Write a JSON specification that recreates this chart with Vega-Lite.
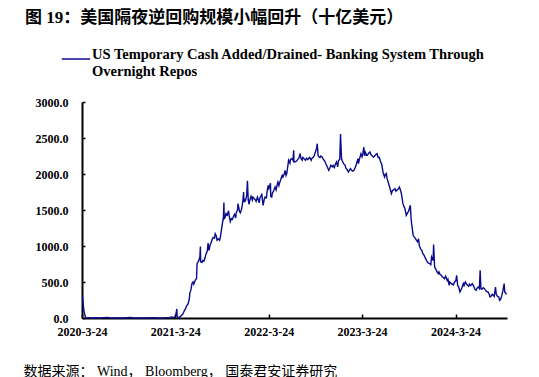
{
  "$schema": "https://vega.github.io/schema/vega-lite/v6.json",
  "autosize": {"type": "none"},
  "width": 425,
  "height": 216,
  "padding": {"left": 82, "top": 102, "right": 32, "bottom": 59},
  "background": "white",
  "title": {
    "text": "图 19：美国隔夜逆回购规模小幅回升（十亿美元）",
    "anchor": "start",
    "frame": "group",
    "dx": -57,
    "offset": 17,
    "font": "Liberation Serif, Noto Sans CJK SC",
    "fontSize": 17,
    "fontWeight": "bold",
    "color": "#000000"
  },
  "config": {
    "view": {"stroke": null},
    "axis": {
      "labelFont": "Liberation Serif",
      "labelFontSize": 12,
      "labelFontWeight": "bold",
      "labelColor": "#000000",
      "domainColor": "#000000",
      "domainWidth": 2,
      "tickColor": "#000000",
      "tickWidth": 1.5,
      "grid": false
    }
  },
  "data": {
    "values": [
      {"d": "2020-03-24", "v": 280}, {"d": "2020-03-26", "v": 290}, {"d": "2020-03-30", "v": 150},
      {"d": "2020-04-01", "v": 90}, {"d": "2020-04-06", "v": 20}, {"d": "2020-04-10", "v": 2},
      {"d": "2020-04-20", "v": 5}, {"d": "2020-05-01", "v": 0}, {"d": "2020-05-15", "v": 3},
      {"d": "2020-06-01", "v": 0}, {"d": "2020-06-30", "v": 8}, {"d": "2020-07-15", "v": 0},
      {"d": "2020-08-03", "v": 1}, {"d": "2020-09-01", "v": 0}, {"d": "2020-09-30", "v": 6},
      {"d": "2020-10-15", "v": 0}, {"d": "2020-11-16", "v": 0}, {"d": "2020-12-31", "v": 4},
      {"d": "2021-01-15", "v": 0}, {"d": "2021-02-01", "v": 2}, {"d": "2021-02-16", "v": 4},
      {"d": "2021-03-01", "v": 8}, {"d": "2021-03-10", "v": 15}, {"d": "2021-03-18", "v": 5},
      {"d": "2021-03-25", "v": 30}, {"d": "2021-03-30", "v": 125}, {"d": "2021-03-31", "v": 15},
      {"d": "2021-04-05", "v": 5}, {"d": "2021-04-12", "v": 20}, {"d": "2021-04-19", "v": 40},
      {"d": "2021-04-23", "v": 60}, {"d": "2021-04-28", "v": 100}, {"d": "2021-05-03", "v": 130},
      {"d": "2021-05-07", "v": 170}, {"d": "2021-05-12", "v": 190}, {"d": "2021-05-17", "v": 250},
      {"d": "2021-05-20", "v": 350}, {"d": "2021-05-24", "v": 390}, {"d": "2021-05-28", "v": 480},
      {"d": "2021-06-01", "v": 500}, {"d": "2021-06-04", "v": 470}, {"d": "2021-06-08", "v": 510},
      {"d": "2021-06-11", "v": 530}, {"d": "2021-06-15", "v": 550}, {"d": "2021-06-17", "v": 755},
      {"d": "2021-06-21", "v": 780}, {"d": "2021-06-24", "v": 800}, {"d": "2021-06-28", "v": 850},
      {"d": "2021-06-30", "v": 992}, {"d": "2021-07-01", "v": 780}, {"d": "2021-07-06", "v": 770},
      {"d": "2021-07-09", "v": 800}, {"d": "2021-07-14", "v": 790}, {"d": "2021-07-19", "v": 850},
      {"d": "2021-07-22", "v": 890}, {"d": "2021-07-27", "v": 930}, {"d": "2021-07-30", "v": 1040},
      {"d": "2021-08-03", "v": 940}, {"d": "2021-08-06", "v": 1000}, {"d": "2021-08-11", "v": 1050},
      {"d": "2021-08-16", "v": 1100}, {"d": "2021-08-19", "v": 1120}, {"d": "2021-08-24", "v": 1110},
      {"d": "2021-08-27", "v": 1170}, {"d": "2021-08-31", "v": 1140}, {"d": "2021-09-03", "v": 1080},
      {"d": "2021-09-08", "v": 1100}, {"d": "2021-09-13", "v": 1080}, {"d": "2021-09-16", "v": 1120},
      {"d": "2021-09-21", "v": 1240}, {"d": "2021-09-24", "v": 1310}, {"d": "2021-09-28", "v": 1400},
      {"d": "2021-09-30", "v": 1604}, {"d": "2021-10-01", "v": 1380}, {"d": "2021-10-05", "v": 1400},
      {"d": "2021-10-08", "v": 1450}, {"d": "2021-10-13", "v": 1430}, {"d": "2021-10-18", "v": 1490},
      {"d": "2021-10-21", "v": 1410}, {"d": "2021-10-25", "v": 1340}, {"d": "2021-10-29", "v": 1380},
      {"d": "2021-11-02", "v": 1370}, {"d": "2021-11-05", "v": 1400}, {"d": "2021-11-10", "v": 1440},
      {"d": "2021-11-15", "v": 1390}, {"d": "2021-11-17", "v": 1460}, {"d": "2021-11-22", "v": 1500},
      {"d": "2021-11-24", "v": 1588}, {"d": "2021-11-30", "v": 1480}, {"d": "2021-12-03", "v": 1460},
      {"d": "2021-12-07", "v": 1500}, {"d": "2021-12-10", "v": 1550}, {"d": "2021-12-13", "v": 1620},
      {"d": "2021-12-16", "v": 1750}, {"d": "2021-12-17", "v": 1610}, {"d": "2021-12-21", "v": 1640},
      {"d": "2021-12-23", "v": 1630}, {"d": "2021-12-28", "v": 1700}, {"d": "2021-12-31", "v": 1905},
      {"d": "2022-01-03", "v": 1640}, {"d": "2022-01-06", "v": 1580}, {"d": "2022-01-11", "v": 1660},
      {"d": "2022-01-14", "v": 1690}, {"d": "2022-01-19", "v": 1640}, {"d": "2022-01-21", "v": 1680},
      {"d": "2022-01-26", "v": 1660}, {"d": "2022-01-31", "v": 1640}, {"d": "2022-02-03", "v": 1620},
      {"d": "2022-02-08", "v": 1680}, {"d": "2022-02-11", "v": 1650}, {"d": "2022-02-15", "v": 1600},
      {"d": "2022-02-18", "v": 1670}, {"d": "2022-02-23", "v": 1700}, {"d": "2022-02-25", "v": 1727},
      {"d": "2022-02-28", "v": 1630}, {"d": "2022-03-02", "v": 1565}, {"d": "2022-03-07", "v": 1650},
      {"d": "2022-03-10", "v": 1680}, {"d": "2022-03-15", "v": 1670}, {"d": "2022-03-18", "v": 1760},
      {"d": "2022-03-22", "v": 1843}, {"d": "2022-03-25", "v": 1800}, {"d": "2022-03-31", "v": 1871},
      {"d": "2022-04-01", "v": 1690}, {"d": "2022-04-05", "v": 1680}, {"d": "2022-04-08", "v": 1740},
      {"d": "2022-04-12", "v": 1760}, {"d": "2022-04-18", "v": 1819}, {"d": "2022-04-22", "v": 1780},
      {"d": "2022-04-26", "v": 1850}, {"d": "2022-04-29", "v": 1889}, {"d": "2022-05-03", "v": 1840},
      {"d": "2022-05-06", "v": 1880}, {"d": "2022-05-11", "v": 1930}, {"d": "2022-05-16", "v": 1981},
      {"d": "2022-05-19", "v": 1960}, {"d": "2022-05-24", "v": 2000}, {"d": "2022-05-27", "v": 2051},
      {"d": "2022-05-31", "v": 1981}, {"d": "2022-06-03", "v": 2010}, {"d": "2022-06-08", "v": 2140},
      {"d": "2022-06-10", "v": 2190}, {"d": "2022-06-15", "v": 2150}, {"d": "2022-06-17", "v": 2200},
      {"d": "2022-06-22", "v": 2213}, {"d": "2022-06-27", "v": 2190}, {"d": "2022-06-30", "v": 2329},
      {"d": "2022-07-01", "v": 2167}, {"d": "2022-07-06", "v": 2170}, {"d": "2022-07-11", "v": 2180},
      {"d": "2022-07-15", "v": 2200}, {"d": "2022-07-20", "v": 2220}, {"d": "2022-07-25", "v": 2282},
      {"d": "2022-07-28", "v": 2220}, {"d": "2022-08-02", "v": 2190}, {"d": "2022-08-05", "v": 2230},
      {"d": "2022-08-10", "v": 2210}, {"d": "2022-08-15", "v": 2190}, {"d": "2022-08-19", "v": 2220},
      {"d": "2022-08-24", "v": 2200}, {"d": "2022-08-26", "v": 2213}, {"d": "2022-08-31", "v": 2230},
      {"d": "2022-09-06", "v": 2190}, {"d": "2022-09-09", "v": 2220}, {"d": "2022-09-14", "v": 2230},
      {"d": "2022-09-19", "v": 2260}, {"d": "2022-09-22", "v": 2300}, {"d": "2022-09-27", "v": 2350},
      {"d": "2022-09-30", "v": 2421}, {"d": "2022-10-03", "v": 2259}, {"d": "2022-10-06", "v": 2240},
      {"d": "2022-10-11", "v": 2230}, {"d": "2022-10-14", "v": 2250}, {"d": "2022-10-19", "v": 2236},
      {"d": "2022-10-24", "v": 2200}, {"d": "2022-10-27", "v": 2190}, {"d": "2022-10-31", "v": 2167},
      {"d": "2022-11-03", "v": 2140}, {"d": "2022-11-08", "v": 2100}, {"d": "2022-11-14", "v": 2051},
      {"d": "2022-11-18", "v": 2080}, {"d": "2022-11-22", "v": 2120}, {"d": "2022-11-28", "v": 2100},
      {"d": "2022-12-01", "v": 2120}, {"d": "2022-12-06", "v": 2090}, {"d": "2022-12-09", "v": 2130},
      {"d": "2022-12-14", "v": 2167}, {"d": "2022-12-19", "v": 2100}, {"d": "2022-12-22", "v": 2190},
      {"d": "2022-12-27", "v": 2200}, {"d": "2022-12-30", "v": 2554}, {"d": "2023-01-03", "v": 2213},
      {"d": "2023-01-06", "v": 2180}, {"d": "2023-01-11", "v": 2144}, {"d": "2023-01-17", "v": 2120},
      {"d": "2023-01-20", "v": 2080}, {"d": "2023-01-25", "v": 2060}, {"d": "2023-01-30", "v": 2028},
      {"d": "2023-02-02", "v": 2050}, {"d": "2023-02-07", "v": 2074}, {"d": "2023-02-10", "v": 2060},
      {"d": "2023-02-15", "v": 2040}, {"d": "2023-02-21", "v": 2051}, {"d": "2023-02-24", "v": 2080},
      {"d": "2023-02-28", "v": 2110}, {"d": "2023-03-03", "v": 2150}, {"d": "2023-03-08", "v": 2213},
      {"d": "2023-03-10", "v": 2144}, {"d": "2023-03-15", "v": 2220}, {"d": "2023-03-20", "v": 2280},
      {"d": "2023-03-24", "v": 2240}, {"d": "2023-03-28", "v": 2300}, {"d": "2023-03-31", "v": 2375},
      {"d": "2023-04-03", "v": 2250}, {"d": "2023-04-06", "v": 2300}, {"d": "2023-04-11", "v": 2259},
      {"d": "2023-04-14", "v": 2260}, {"d": "2023-04-19", "v": 2290}, {"d": "2023-04-24", "v": 2306},
      {"d": "2023-04-28", "v": 2270}, {"d": "2023-05-03", "v": 2250}, {"d": "2023-05-08", "v": 2236},
      {"d": "2023-05-12", "v": 2250}, {"d": "2023-05-17", "v": 2270}, {"d": "2023-05-22", "v": 2282},
      {"d": "2023-05-26", "v": 2230}, {"d": "2023-05-31", "v": 2230}, {"d": "2023-06-05", "v": 2167},
      {"d": "2023-06-09", "v": 2140}, {"d": "2023-06-14", "v": 2028}, {"d": "2023-06-20", "v": 1958},
      {"d": "2023-06-23", "v": 1990}, {"d": "2023-06-27", "v": 2005}, {"d": "2023-06-30", "v": 1935},
      {"d": "2023-07-05", "v": 1880}, {"d": "2023-07-10", "v": 1819}, {"d": "2023-07-17", "v": 1727},
      {"d": "2023-07-21", "v": 1770}, {"d": "2023-07-26", "v": 1780}, {"d": "2023-07-31", "v": 1796},
      {"d": "2023-08-04", "v": 1760}, {"d": "2023-08-09", "v": 1780}, {"d": "2023-08-14", "v": 1796},
      {"d": "2023-08-17", "v": 1819}, {"d": "2023-08-22", "v": 1770}, {"d": "2023-08-25", "v": 1727},
      {"d": "2023-08-31", "v": 1588}, {"d": "2023-09-05", "v": 1540}, {"d": "2023-09-08", "v": 1519},
      {"d": "2023-09-13", "v": 1426}, {"d": "2023-09-18", "v": 1460}, {"d": "2023-09-22", "v": 1480},
      {"d": "2023-09-29", "v": 1565}, {"d": "2023-10-02", "v": 1380}, {"d": "2023-10-04", "v": 1310},
      {"d": "2023-10-10", "v": 1148}, {"d": "2023-10-13", "v": 1130}, {"d": "2023-10-18", "v": 1110},
      {"d": "2023-10-23", "v": 1079}, {"d": "2023-10-27", "v": 1060}, {"d": "2023-10-31", "v": 1100},
      {"d": "2023-11-03", "v": 1009}, {"d": "2023-11-08", "v": 960}, {"d": "2023-11-13", "v": 940},
      {"d": "2023-11-17", "v": 894}, {"d": "2023-11-22", "v": 870}, {"d": "2023-11-28", "v": 820},
      {"d": "2023-12-01", "v": 801}, {"d": "2023-12-06", "v": 770}, {"d": "2023-12-11", "v": 760},
      {"d": "2023-12-14", "v": 755}, {"d": "2023-12-18", "v": 740}, {"d": "2023-12-21", "v": 847},
      {"d": "2023-12-27", "v": 800}, {"d": "2023-12-29", "v": 1019}, {"d": "2024-01-02", "v": 708},
      {"d": "2024-01-05", "v": 690}, {"d": "2024-01-10", "v": 650}, {"d": "2024-01-16", "v": 616},
      {"d": "2024-01-19", "v": 640}, {"d": "2024-01-24", "v": 600}, {"d": "2024-01-29", "v": 593},
      {"d": "2024-02-01", "v": 570}, {"d": "2024-02-06", "v": 560}, {"d": "2024-02-09", "v": 546},
      {"d": "2024-02-14", "v": 580}, {"d": "2024-02-20", "v": 523}, {"d": "2024-02-23", "v": 540},
      {"d": "2024-02-28", "v": 454}, {"d": "2024-03-01", "v": 500}, {"d": "2024-03-06", "v": 480},
      {"d": "2024-03-11", "v": 470}, {"d": "2024-03-15", "v": 460}, {"d": "2024-03-20", "v": 500},
      {"d": "2024-03-25", "v": 520}, {"d": "2024-03-28", "v": 593}, {"d": "2024-04-01", "v": 454},
      {"d": "2024-04-05", "v": 430}, {"d": "2024-04-10", "v": 361}, {"d": "2024-04-15", "v": 400},
      {"d": "2024-04-18", "v": 420}, {"d": "2024-04-23", "v": 477}, {"d": "2024-04-26", "v": 450},
      {"d": "2024-05-01", "v": 500}, {"d": "2024-05-06", "v": 470}, {"d": "2024-05-10", "v": 454},
      {"d": "2024-05-14", "v": 440}, {"d": "2024-05-17", "v": 470}, {"d": "2024-05-22", "v": 450},
      {"d": "2024-05-28", "v": 477}, {"d": "2024-05-31", "v": 460}, {"d": "2024-06-04", "v": 430},
      {"d": "2024-06-07", "v": 400}, {"d": "2024-06-12", "v": 384}, {"d": "2024-06-17", "v": 420},
      {"d": "2024-06-21", "v": 430}, {"d": "2024-06-25", "v": 410}, {"d": "2024-06-28", "v": 662},
      {"d": "2024-07-01", "v": 407}, {"d": "2024-07-05", "v": 400}, {"d": "2024-07-10", "v": 420},
      {"d": "2024-07-15", "v": 407}, {"d": "2024-07-18", "v": 390}, {"d": "2024-07-23", "v": 370},
      {"d": "2024-07-29", "v": 361}, {"d": "2024-08-01", "v": 340}, {"d": "2024-08-06", "v": 292},
      {"d": "2024-08-09", "v": 300}, {"d": "2024-08-14", "v": 330}, {"d": "2024-08-19", "v": 315},
      {"d": "2024-08-22", "v": 300}, {"d": "2024-08-27", "v": 430}, {"d": "2024-08-30", "v": 330},
      {"d": "2024-09-04", "v": 300}, {"d": "2024-09-09", "v": 292}, {"d": "2024-09-12", "v": 245},
      {"d": "2024-09-16", "v": 260}, {"d": "2024-09-20", "v": 300}, {"d": "2024-09-25", "v": 380},
      {"d": "2024-09-30", "v": 477}, {"d": "2024-10-02", "v": 361}, {"d": "2024-10-07", "v": 340},
      {"d": "2024-10-10", "v": 329}
    ]
  },
  "transform": [
    {"calculate": "'US Temporary Cash Added/Drained- Banking System Through Overnight Repos'", "as": "s"}
  ],
  "mark": {"type": "line", "strokeWidth": 1.4, "interpolate": "linear"},
  "encoding": {
    "x": {
      "field": "d",
      "type": "temporal",
      "scale": {
        "type": "utc",
        "domain": [
          {"year": 2020, "month": 3, "date": 24, "utc": true},
          {"year": 2024, "month": 10, "date": 11, "utc": true}
        ]
      },
      "axis": {
        "title": "数据来源： Wind， Bloomberg， 国泰君安证券研究",
        "titleFont": "Liberation Serif, Noto Sans CJK SC",
        "titleFontSize": 14,
        "titleFontWeight": "normal",
        "titleColor": "#000000",
        "titleAnchor": "start",
        "titleAlign": "left",
        "titleX": -59,
        "titleY": 46,
        "values": [
          {"year": 2020, "month": 3, "date": 24, "utc": true},
          {"year": 2021, "month": 3, "date": 24, "utc": true},
          {"year": 2022, "month": 3, "date": 24, "utc": true},
          {"year": 2023, "month": 3, "date": 24, "utc": true},
          {"year": 2024, "month": 3, "date": 24, "utc": true}
        ],
        "labelExpr": "utcFormat(datum.value, '%Y-%-m-%-d')",
        "tickSize": -4,
        "labelPadding": 12,
        "labelFlush": false,
        "labelOverlap": false
      }
    },
    "y": {
      "field": "v",
      "type": "quantitative",
      "scale": {"domain": [0, 3000], "nice": false, "zero": true},
      "axis": {
        "title": null,
        "values": [0, 500, 1000, 1500, 2000, 2500, 3000],
        "format": ".1f",
        "tickSize": -3,
        "labelPadding": 17
      }
    },
    "color": {
      "field": "s",
      "type": "nominal",
      "scale": {"range": ["#0A0A8C"]},
      "legend": {
        "title": null,
        "orient": "none",
        "legendX": -21,
        "legendY": -58,
        "symbolType": "stroke",
        "symbolSize": 800,
        "symbolStrokeWidth": 1.5,
        "labelFont": "Liberation Serif",
        "labelFontSize": 14.5,
        "labelFontWeight": "bold",
        "labelColor": "#000000",
        "labelLimit": 500,
        "labelBaseline": "alphabetic",
        "labelLineHeight": 16,
        "labelOffset": 1,
        "labelExpr": "['US Temporary Cash Added/Drained- Banking System Through', 'Overnight Repos']"
      }
    }
  }
}
